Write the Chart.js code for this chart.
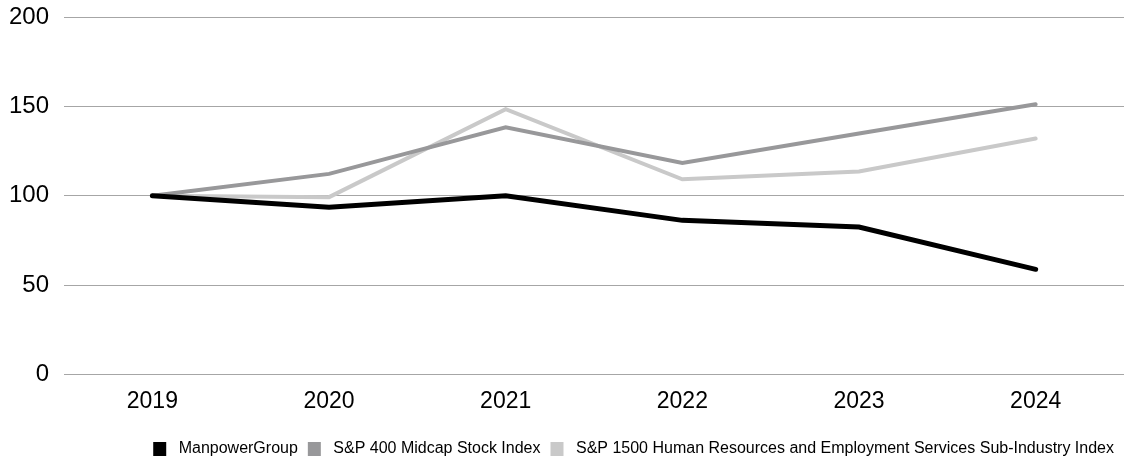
<!DOCTYPE html>
<html>
<head>
<meta charset="utf-8">
<script src="https://cdn.jsdelivr.net/npm/chart.js@4/dist/chart.umd.min.js"></script>
<style>
  html, body { margin: 0; padding: 0; background: #fff; }
  #wrap { width: 1124px; height: 459px; }
</style>
</head>
<body>
<div id="wrap"><canvas id="chart"></canvas></div>
<script>
// Data
const years = ['2019', '2020', '2021', '2022', '2023', '2024'];
const manpower = [100, 93.5, 100, 86.2, 82.5, 58.8];
const midcap = [100, 112.2, 138.3, 118.3, 134.8, 151.2];
const hrIndex = [100, 99.2, 148.4, 109.2, 113.5, 132];
const yTicks = [0, 50, 100, 150, 200];

const font = 'Liberation Sans, Arial, sans-serif';

const ctx = document.getElementById('chart').getContext('2d');
new Chart(ctx, {
  type: 'line',
  data: {
    labels: years,
    datasets: [
      {
        label: 'ManpowerGroup',
        data: manpower,
        borderColor: '#000000',
        backgroundColor: '#000000',
        borderWidth: 5,
        order: 1
      },
      {
        label: 'S&P 400 Midcap Stock Index',
        data: midcap,
        borderColor: '#98989a',
        backgroundColor: '#98989a',
        borderWidth: 4,
        order: 2
      },
      {
        label: 'S&P 1500 Human Resources and Employment Services Sub-Industry Index',
        data: hrIndex,
        borderColor: '#c9c9c9',
        backgroundColor: '#c9c9c9',
        borderWidth: 4,
        order: 3
      }
    ]
  },
  options: {
    responsive: true,
    maintainAspectRatio: false,
    animation: false,
    elements: {
      point: { radius: 0, hoverRadius: 0 },
      line: { tension: 0, borderCapStyle: 'round', borderJoinStyle: 'miter' }
    },
    layout: { padding: { top: 0, right: 0, left: -6, bottom: -8 } },
    plugins: {
      tooltip: { enabled: false },
      legend: {
        position: 'bottom',
        align: 'end',
        labels: {
          font: { family: font, size: 16 },
          color: '#000',
          boxWidth: 13,
          boxHeight: 14,
          padding: 10,
          generateLabels: (chart) => {
            const items = Chart.defaults.plugins.legend.labels.generateLabels(chart);
            items.forEach(it => { it.lineWidth = 0; it.text = ' ' + it.text; });
            return items;
          }
        }
      }
    },
    scales: {
      x: {
        offset: true,
        grid: { display: false, drawTicks: false },
        border: { display: false },
        ticks: {
          font: { family: font, size: 23 },
          color: '#000',
          padding: 13
        },
        afterFit: (axis) => { axis.height += 3; }
      },
      y: {
        min: 0,
        max: 200,
        afterBuildTicks: (axis) => { axis.ticks = yTicks.map(v => ({ value: v })); },
        afterFit: (axis) => { axis.paddingTop = 17; },
        grid: { color: '#a6a6a6', lineWidth: 1, drawTicks: false },
        border: { display: false },
        ticks: {
          font: { family: font, size: 24 },
          color: '#000',
          padding: 15
        }
      }
    }
  }
});
</script>
</body>
</html>
